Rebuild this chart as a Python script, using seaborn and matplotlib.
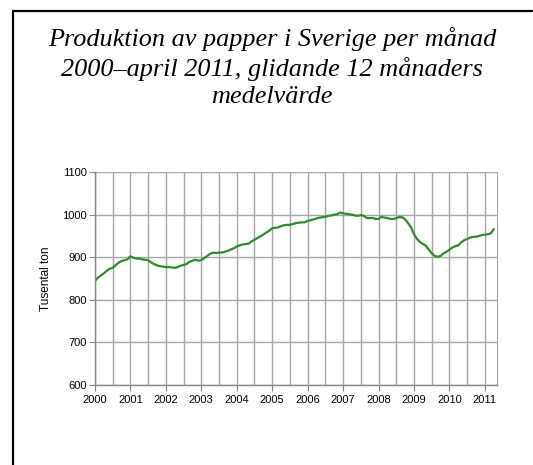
import numpy as np
import pandas as pd
import matplotlib.pyplot as plt
import seaborn as sns
from matplotlib.lines import Line2D

# monthly 12-month moving average, Jan 2000 - Apr 2011 (thousand tonnes)
start_year = 2000
values = [
    844, 852, 857, 862, 868, 873, 875, 881, 887, 891, 893, 895,
    902, 899, 897, 897, 895, 894, 893, 888, 884, 881, 879, 878,
    877, 877, 876, 875, 877, 880, 882, 884, 889, 892, 894, 892,
    893, 898, 903, 908, 911, 910, 911, 911, 913, 915, 918, 921,
    925, 928, 930, 931, 932, 937, 941, 945, 949, 953, 958, 962,
    968, 969, 970, 973, 975, 976, 976, 978, 980, 981, 982, 982,
    985, 987, 989, 991, 993, 994, 995, 997, 998, 1000, 1001, 1005,
    1003, 1002, 1001, 1000, 998, 997, 999, 997, 992, 992, 992, 990,
    990, 995, 993, 992, 990, 990, 992, 994, 994, 989, 980, 970,
    954, 943, 936, 931, 927, 918, 909, 903, 901, 903, 909, 913,
    918, 923, 926, 928, 935, 940, 943, 946, 948, 948, 950, 952,
    953, 954, 956, 966,
]
year_labels = list(range(2000, 2012))
y_ticks = [600, 700, 800, 900, 1000, 1100]

df = pd.DataFrame({
    'month': start_year + np.arange(len(values)) / 12,
    'value': values,
})

sns.set_style('white')
plt.rcParams['font.family'] = ['Liberation Sans', 'DejaVu Sans']

fig = plt.figure(figsize=(5.33, 4.65), dpi=100)
ax = fig.add_axes([0.178, 0.172, 0.754, 0.458])

sns.lineplot(x='month', y='value', data=df, color='#2f8a2a', linewidth=1.6, ax=ax)

ax.set_xlim(start_year, start_year + len(values) / 12)
ax.set_ylim(600, 1100)
ax.set_yticks(y_ticks)
ax.set_xticks(year_labels)
ax.set_xticklabels([str(y) for y in year_labels], fontsize=8)
ax.set_xticks(np.arange(2000.5, 2011.3, 1), minor=True)
ax.tick_params(axis='y', labelsize=8, length=4, color='#868686', pad=2, left=True, labelcolor='black')
ax.tick_params(axis='x', which='major', length=4, color='#868686', pad=3, bottom=True, labelcolor='black')
ax.tick_params(axis='x', which='minor', length=0)
ax.grid(True, which='both', axis='x', color='#a6a6a6', linewidth=1)
ax.grid(True, which='major', axis='y', color='#a6a6a6', linewidth=1)
ax.set_axisbelow(True)
ax.spines['top'].set_visible(False)
ax.spines['right'].set_color('#a6a6a6')
for s in ['left', 'bottom']:
    ax.spines[s].set_color('#868686')
    ax.spines[s].set_linewidth(1)
ax.set_xlabel('')
ax.set_ylabel('Tusental ton', fontsize=8.5, labelpad=7, color='black')

fig.text(0.510, 0.943, 'Produktion av papper i Sverige per månad\n'
         '2000–april 2011, glidande 12 månaders\nmedelvärde',
         ha='center', va='top', fontsize=18.9, style='italic', color='black',
         family='Liberation Serif', linespacing=1.32)

# slide frame (left and top edges)
fig.add_artist(Line2D([13 / 533, 13 / 533], [0, 1 - 11 / 465], color='black', linewidth=1.6))
fig.add_artist(Line2D([13 / 533, 532 / 533], [1 - 11 / 465, 1 - 11 / 465], color='black', linewidth=1.6))

plt.savefig('out.png', dpi=100)
